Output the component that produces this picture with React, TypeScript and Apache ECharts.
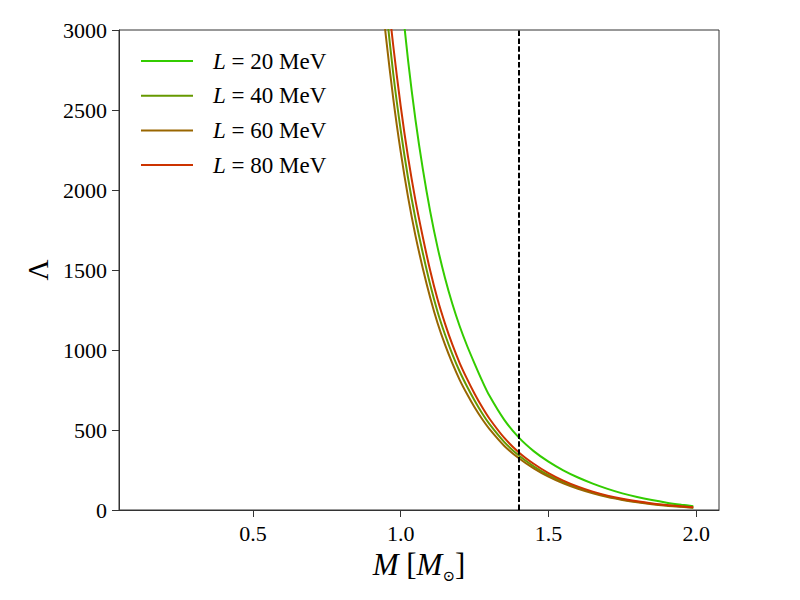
import React, { useEffect, useRef } from "react";
import * as echarts from "echarts";

// ---- data ----
const seriesNames = ["L = 20 MeV", "L = 40 MeV", "L = 60 MeV", "L = 80 MeV"];
const seriesColors = ["#33cc00", "#669900", "#996600", "#cc3300"];

const massL20 = [1.0, 1.025, 1.05, 1.075, 1.1, 1.125, 1.15, 1.175, 1.2, 1.225, 1.25, 1.275, 1.3, 1.35, 1.4, 1.45, 1.5, 1.55, 1.6, 1.65, 1.7, 1.75, 1.8, 1.85, 1.9, 1.95, 1.99];
const lambdaL20 = [3250, 2810, 2440, 2130, 1865, 1640, 1450, 1287, 1147, 1025, 915, 810, 715, 565, 452, 368, 302, 248, 203, 165, 132, 104, 81, 62, 46, 33, 24];

const massL40 = [0.95, 0.975, 1.0, 1.025, 1.05, 1.075, 1.1, 1.125, 1.15, 1.175, 1.2, 1.225, 1.25, 1.275, 1.3, 1.35, 1.4, 1.45, 1.5, 1.55, 1.6, 1.65, 1.7, 1.75, 1.8, 1.85, 1.9, 1.95, 1.99];
const lambdaL40 = [3150, 2725, 2375, 2075, 1820, 1605, 1408, 1238, 1097, 973, 864, 770, 684, 606, 538, 426, 340, 273, 218, 174, 138, 109, 85, 66, 51, 39, 29, 22, 16];

const massL60 = [0.94, 0.95, 0.975, 1.0, 1.025, 1.05, 1.075, 1.1, 1.125, 1.15, 1.175, 1.2, 1.225, 1.25, 1.275, 1.3, 1.35, 1.4, 1.45, 1.5, 1.55, 1.6, 1.65, 1.7, 1.75, 1.8, 1.85, 1.9, 1.95, 1.99];
const lambdaL60 = [3150, 2960, 2570, 2240, 1955, 1715, 1510, 1327, 1167, 1033, 916, 812, 723, 642, 570, 507, 402, 323, 260, 208, 166, 132, 104, 81, 63, 48, 36, 27, 20, 14];

const massL80 = [0.96, 0.975, 1.0, 1.025, 1.05, 1.075, 1.1, 1.125, 1.15, 1.175, 1.2, 1.225, 1.25, 1.275, 1.3, 1.35, 1.4, 1.45, 1.5, 1.55, 1.6, 1.65, 1.7, 1.75, 1.8, 1.85, 1.9, 1.95, 1.99];
const lambdaL80 = [3150, 2900, 2525, 2205, 1935, 1705, 1495, 1315, 1165, 1033, 917, 818, 727, 645, 572, 452, 360, 289, 231, 184, 146, 115, 90, 70, 54, 41, 31, 23, 17];

const xTickValues = [0.5, 1.0, 1.5, 2.0];
const canonicalMass = 1.4;

const masses = [massL20, massL40, massL60, massL80];
const lambdas = [lambdaL20, lambdaL40, lambdaL60, lambdaL80];

const SERIF = "'Liberation Serif', 'DejaVu Serif', serif";

export default function App() {
  const ref = useRef<HTMLDivElement>(null);

  useEffect(() => {
    if (!ref.current) return;
    const chart = echarts.init(ref.current, undefined, { renderer: "svg" });

    const series: any[] = seriesNames.map((name, i) => ({
      name,
      type: "line",
      data: masses[i].map((m, j) => [m, lambdas[i][j]]),
      showSymbol: false,
      symbol: "none",
      smooth: 0.3,
      clip: true,
      lineStyle: { color: seriesColors[i], width: 2 },
      itemStyle: { color: seriesColors[i] },
      z: 2 + i,
    }));

    series[0].markLine = {
      silent: true,
      symbol: ["none", "none"],
      label: { show: false },
      lineStyle: { color: "#000", type: [5.5, 2.4], width: 2 },
      data: [{ xAxis: canonicalMass }],
      z: 10,
    };

    chart.setOption({
      animation: false,
      backgroundColor: "#fff",
      grid: {
        left: 119,
        right: 81,
        top: 30,
        bottom: 90,
        show: true,
        borderColor: "#333",
        borderWidth: 1,
        outerBoundsMode: "none",
      },
      legend: {
        orient: "vertical",
        left: 141,
        top: 49,
        padding: 0,
        icon: "rect",
        itemWidth: 52,
        itemHeight: 2,
        itemGap: 10.7,
        data: seriesNames,
        formatter: (name: string) => `{i|${name.slice(0, 1)}}{n|${name.slice(1)}}`,
        textStyle: {
          fontFamily: SERIF,
          fontSize: 23,
          color: "#000",
          lineHeight: 24,
          padding: [0, 0, 0, 15],
          rich: {
            i: { fontFamily: SERIF, fontSize: 23, fontStyle: "italic", color: "#000", lineHeight: 24 },
            n: { fontFamily: SERIF, fontSize: 23, color: "#000", lineHeight: 24 },
          },
        },
      },
      xAxis: {
        type: "value",
        min: 0.047,
        max: 2.077,
        name: "{i|M}{n| [}{i|M}{s|⊙}{n|]}",
        nameLocation: "middle",
        nameGap: 33,
        nameTextStyle: {
          color: "#000",
          rich: {
            i: { fontFamily: SERIF, fontSize: 31, fontStyle: "italic", color: "#000", lineHeight: 38 },
            n: { fontFamily: SERIF, fontSize: 31, color: "#000", lineHeight: 38 },
            s: { fontFamily: "'DejaVu Serif', serif", fontSize: 15, color: "#000", lineHeight: 38, verticalAlign: "bottom" },
          },
        },
        axisLine: { onZero: false, lineStyle: { color: "#333", width: 1 } },
        axisTick: { show: true, length: 7, customValues: xTickValues, lineStyle: { color: "#333", width: 1 } },
        axisLabel: {
          customValues: xTickValues,
          formatter: (v: number) => v.toFixed(1),
          margin: 12,
          color: "#000",
          fontFamily: SERIF,
          fontSize: 22,
        },
        splitLine: { show: false },
      },
      yAxis: {
        type: "value",
        min: 0,
        max: 3000,
        interval: 500,
        name: "Λ",
        nameLocation: "middle",
        nameRotate: 90,
        nameGap: 67,
        nameTextStyle: { fontFamily: SERIF, fontSize: 29, color: "#000" },
        axisLine: { show: true, onZero: false, lineStyle: { color: "#333", width: 1 } },
        axisTick: { show: true, length: 7, lineStyle: { color: "#333", width: 1 } },
        axisLabel: {
          margin: 12,
          color: "#000",
          fontFamily: SERIF,
          fontSize: 22,
          formatter: (v: number) => String(v),
        },
        splitLine: { show: false },
      },
      series,
    });

    return () => chart.dispose();
  }, []);

  return (
    <div
      ref={ref}
      style={{ position: "absolute", left: 0, top: 0, width: 800, height: 600 }}
    />
  );
}
